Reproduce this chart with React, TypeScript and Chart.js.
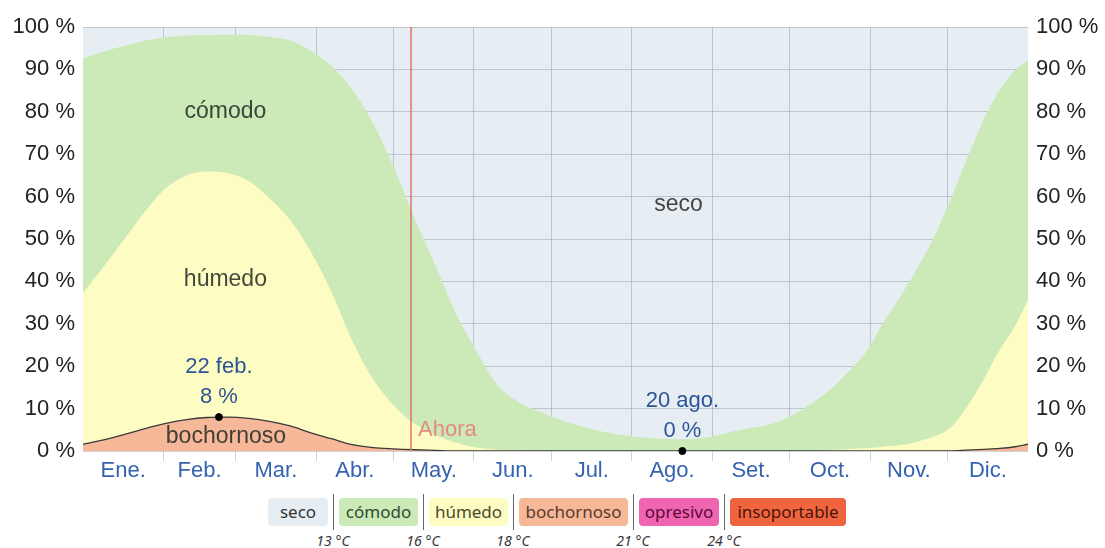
import React, { useEffect, useRef } from "react";
import { Chart, registerables } from "chart.js";

Chart.register(...registerables);

// ---- Data ----
const MONTHS = ["Ene.", "Feb.", "Mar.", "Abr.", "May.", "Jun.", "Jul.", "Ago.", "Set.", "Oct.", "Nov.", "Dic."];
const MONTH_LENGTHS = [31, 28, 31, 30, 31, 30, 31, 31, 30, 31, 30, 31];

const DAYS = [0, 8, 16, 24, 32, 40, 48, 56, 64, 72, 80, 88, 96, 104, 112, 120, 128, 136, 144, 152, 160, 168, 176, 184, 196, 210, 222, 232, 242, 254, 268, 280, 290, 296, 303, 309, 316, 322, 328, 335, 341, 348, 354, 360, 365];

// cumulative top of each band (%)
const BOCHORNOSO_TOP = [1.6, 2.6, 3.9, 5.3, 6.5, 7.4, 7.9, 8.0, 7.7, 7.0, 5.9, 4.3, 2.9, 1.5, 0.8, 0.5, 0.3, 0.15, 0, 0, 0, 0, 0, 0, 0, 0, 0, 0, 0, 0, 0, 0, 0, 0, 0, 0, 0, 0, 0, 0.05, 0.2, 0.4, 0.6, 1.0, 1.6];
const HUMEDO_TOP = [37.3, 43.5, 50.0, 56.5, 62.0, 65.0, 65.9, 65.5, 63.7, 59.6, 54.5, 47.0, 37.5, 26.0, 17.0, 10.8, 6.4, 3.8, 2.0, 0.8, 0.3, 0.1, 0, 0, 0, 0, 0, 0, 0, 0, 0, 0, 0.3, 0.5, 0.7, 1.0, 1.4, 2.2, 3.3, 5.4, 10.0, 17.0, 23.8, 29.5, 35.6];
const COMODO_TOP = [92.6, 94.2, 95.6, 96.8, 97.6, 98.0, 98.1, 98.2, 98.1, 97.7, 96.8, 94.4, 90.8, 85.3, 77.3, 67.0, 55.0, 43.9, 32.5, 23.5, 15.6, 11.6, 9.4, 7.4, 5.2, 3.6, 2.9, 2.8, 3.3, 5.0, 6.8, 10.6, 15.3, 18.9, 23.8, 30.2, 36.7, 42.8, 49.6, 59.2, 68.3, 78.3, 85.0, 89.8, 92.2];

const HIGHLIGHT_DAYS = [52.5, 231.5];
const HIGHLIGHT_VALUES = [8, 0];
const HIGHLIGHT_DATES = ["22 feb.", "20 ago."];
const NOW_DAY = 126.7;
const NOW_LABEL = "Ahora";

const Y_TICKS = [0, 10, 20, 30, 40, 50, 60, 70, 80, 90, 100];

const REGION_LABELS = ["cómodo", "húmedo", "bochornoso", "seco"];
const REGION_LABEL_DAYS = [55, 55, 55.2, 230];
const REGION_LABEL_VALUES = [80, 40.3, 3.3, 58];

const LEGEND_NAMES = ["seco", "cómodo", "húmedo", "bochornoso", "opresivo", "insoportable"];
const LEGEND_TEMPS = ["13 °C", "16 °C", "18 °C", "21 °C", "24 °C"];

// ---- Derived ----
const BOUNDARIES: number[] = [];
const CENTERS: number[] = [];
{
  let acc = 0;
  MONTH_LENGTHS.forEach((len, i) => {
    CENTERS.push(acc + len / 2);
    acc += len;
    if (i < MONTH_LENGTHS.length - 1) BOUNDARIES.push(acc);
  });
}

const COLORS = {
  seco: "#e6eef3",
  comodo: "#cbeab8",
  humedo: "#fdfcc3",
  bochornoso: "#f6b899",
  opresivo: "#f064b0",
  insoportable: "#f0653f",
};
const LEGEND_BG = [COLORS.seco, COLORS.comodo, COLORS.humedo, COLORS.bochornoso, COLORS.opresivo, COLORS.insoportable];
const LEGEND_FG = ["#333", "#2f4a2f", "#4a4a2a", "#5a3a2a", "#5a0a3a", "#4a1408"];
const LEGEND_W = [60, 79, 79, 109, 80, 116];

const GRID = "rgba(110,120,130,0.33)";
const FONT = "'Liberation Sans', Arial, sans-serif";

const toPts = (vals: number[]) => DAYS.map((d, i) => ({ x: d, y: vals[i] }));

const overlayPlugin = {
  id: "overlayText",
  beforeDraw(chart: any) {
    const { ctx, chartArea } = chart;
    ctx.save();
    ctx.fillStyle = COLORS.seco;
    ctx.fillRect(chartArea.left, chartArea.top, chartArea.right - chartArea.left, chartArea.bottom - chartArea.top);
    ctx.restore();
  },
  afterDraw(chart: any) {
    const { ctx } = chart;
    const xs = chart.scales.x;
    const ys = chart.scales.y;
    ctx.save();
    ctx.font = `23px ${FONT}`;
    ctx.textAlign = "center";
    ctx.textBaseline = "middle";
    REGION_LABELS.forEach((t, i) => {
      ctx.fillStyle = i === 3 ? "#444" : "rgba(35,40,35,0.85)";
      ctx.fillText(t, xs.getPixelForValue(REGION_LABEL_DAYS[i]), ys.getPixelForValue(REGION_LABEL_VALUES[i]));
    });
    ctx.font = `22px ${FONT}`;
    ctx.fillStyle = "#2d5596";
    HIGHLIGHT_DAYS.forEach((d, i) => {
      const px = xs.getPixelForValue(d);
      const py = ys.getPixelForValue(HIGHLIGHT_VALUES[i]);
      ctx.fillText(HIGHLIGHT_DATES[i], px, py - 50);
      ctx.fillText(`${HIGHLIGHT_VALUES[i]} %`, px, py - 20);
    });
    ctx.fillStyle = "#e58a80";
    ctx.textAlign = "left";
    ctx.fillText(NOW_LABEL, xs.getPixelForValue(NOW_DAY) + 7, ys.getPixelForValue(0) - 21);
    ctx.restore();
  },
};

function Legend() {
  const items: any[] = [];
  LEGEND_NAMES.forEach((n, i) => {
    items.push(
      <div
        key={"b" + i}
        style={{
          width: LEGEND_W[i],
          height: 28,
          lineHeight: "28px",
          background: LEGEND_BG[i],
          color: LEGEND_FG[i],
          borderRadius: 4,
          textAlign: "center",
          fontSize: 17,
          whiteSpace: "nowrap",
        }}
      >
        {n}
      </div>
    );
    if (i < LEGEND_TEMPS.length) {
      items.push(
        <div key={"s" + i} style={{ position: "relative", width: 1, height: 36, background: "#666", margin: "-4px 5px 0 5px" }}>
          <span
            style={{
              position: "absolute",
              top: 37,
              left: 0,
              transform: "translateX(-50%)",
              fontStyle: "italic",
              fontSize: 14,
              color: "#333",
              whiteSpace: "nowrap",
            }}
          >
            {LEGEND_TEMPS[i]}
          </span>
        </div>
      );
    }
  });
  return (
    <div style={{ position: "absolute", left: 268, top: 498, display: "flex", alignItems: "flex-start", fontFamily: "'Noto Sans', 'Open Sans', sans-serif" }}>
      {items}
    </div>
  );
}

export default function App() {
  const ref = useRef<HTMLCanvasElement | null>(null);
  useEffect(() => {
    if (!ref.current) return;
    const yTickCb = (v: any) => `${v} %`;
    const chart = new Chart(ref.current, {
      type: "line",
      data: {
        datasets: [
          {
            label: "highlights",
            data: HIGHLIGHT_DAYS.map((d, i) => ({ x: d, y: HIGHLIGHT_VALUES[i] })),
            showLine: false,
            pointRadius: 3.5,
            pointBackgroundColor: "#000",
            pointBorderColor: "#000",
            clip: false,
          } as any,
          {
            label: "now",
            data: [
              { x: NOW_DAY, y: 0 },
              { x: NOW_DAY, y: 100 },
            ],
            borderColor: "#e8706a",
            borderWidth: 1.5,
            pointRadius: 0,
            fill: false,
          },
          {
            label: "bochornoso",
            data: toPts(BOCHORNOSO_TOP),
            borderColor: "#3a3a3a",
            borderWidth: 1.3,
            backgroundColor: COLORS.bochornoso,
            fill: "origin",
            pointRadius: 0,
            cubicInterpolationMode: "monotone",
          },
          {
            label: "húmedo",
            data: toPts(HUMEDO_TOP),
            borderWidth: 0,
            borderColor: "rgba(0,0,0,0)",
            backgroundColor: COLORS.humedo,
            fill: "origin",
            pointRadius: 0,
            cubicInterpolationMode: "monotone",
          },
          {
            label: "cómodo",
            data: toPts(COMODO_TOP),
            borderWidth: 0,
            borderColor: "rgba(0,0,0,0)",
            backgroundColor: COLORS.comodo,
            fill: "origin",
            pointRadius: 0,
            cubicInterpolationMode: "monotone",
          },
        ],
      },
      options: {
        animation: false,
        responsive: false,
        events: [],
        layout: { padding: { top: 27, left: 0, right: 0, bottom: 0 } },
        plugins: { legend: { display: false }, tooltip: { enabled: false } },
        scales: {
          x: {
            type: "linear",
            min: 0,
            max: 365,
            position: "bottom",
            z: 1,
            border: { display: false },
            afterBuildTicks: (scale: any) => {
              const all = [...BOUNDARIES, ...CENTERS].sort((a, b) => a - b);
              scale.ticks = all.map((v) => ({ value: v }));
            },
            afterFit: (scale: any) => {
              scale.height = 39;
            },
            grid: {
              color: (c: any) => (c.tick && BOUNDARIES.includes(c.tick.value) ? GRID : "rgba(0,0,0,0)"),
              drawTicks: true,
              tickLength: 10,
            },
            ticks: {
              autoSkip: false,
              maxRotation: 0,
              padding: -3,
              color: "#3563b0",
              font: { family: FONT, size: 22 },
              callback: (v: any) => {
                const i = CENTERS.indexOf(Number(v));
                return i >= 0 ? MONTHS[i] : "";
              },
            },
          },
          y: {
            type: "linear",
            min: 0,
            max: 100,
            position: "left",
            z: 1,
            border: { display: false },
            afterBuildTicks: (scale: any) => {
              scale.ticks = Y_TICKS.map((v) => ({ value: v }));
            },
            afterFit: (scale: any) => {
              scale.width = 83;
            },
            grid: { color: GRID, drawTicks: false },
            ticks: { padding: 8, color: "#222", font: { family: FONT, size: 22 }, callback: yTickCb },
          },
          y1: {
            type: "linear",
            min: 0,
            max: 100,
            position: "right",
            z: 1,
            border: { display: false },
            afterBuildTicks: (scale: any) => {
              scale.ticks = Y_TICKS.map((v) => ({ value: v }));
            },
            afterFit: (scale: any) => {
              scale.width = 77;
            },
            grid: { display: false, drawTicks: false },
            ticks: { padding: 8, color: "#222", font: { family: FONT, size: 22 }, callback: yTickCb },
          },
        },
      } as any,
      plugins: [overlayPlugin],
    });
    return () => chart.destroy();
  }, []);

  return (
    <div style={{ position: "absolute", left: 0, top: 0, width: 1105, height: 548, background: "#fff" }}>
      <canvas ref={ref} width={1105} height={490} style={{ display: "block", width: 1105, height: 490 }} />
      <Legend />
    </div>
  );
}
